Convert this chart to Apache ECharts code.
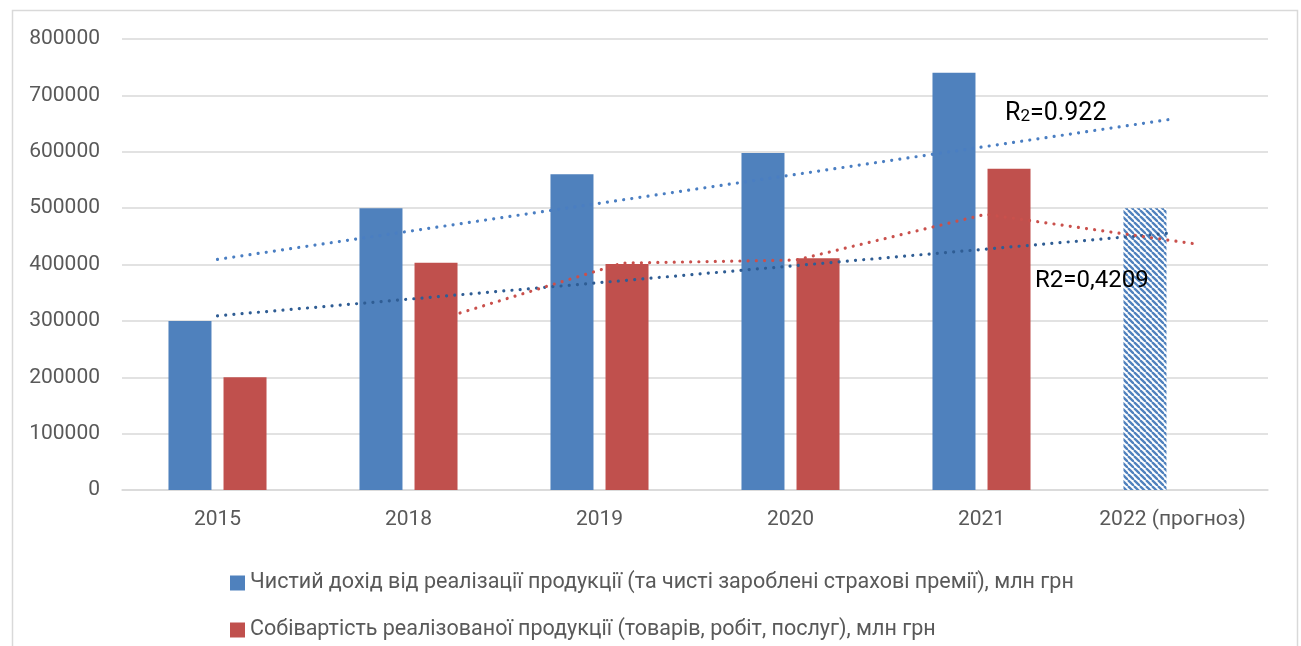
<!DOCTYPE html>
<html>
<head>
<meta charset="utf-8">
<script src="https://cdn.jsdelivr.net/npm/echarts@6/dist/echarts.min.js"></script>
<style>
html,body{margin:0;padding:0;background:#fff;}
#chart{width:1301px;height:646px;}
</style>
</head>
<body>
<div id="chart"></div>
<script>
// ---- data ----
const categories = ['2015', '2018', '2019', '2020', '2021', '2022 (прогноз)'];
const incomeValues = [300000, 500000, 560000, 598000, 740000, 500000];
const costValues = [200000, 403000, 401000, 411000, 570000, null];
const yTicks = [0, 100000, 200000, 300000, 400000, 500000, 600000, 700000, 800000];
// trend lines: [category position, value]
const incomeTrend = [[0, 409000], [5, 658000]];
const secondTrend = [[0, 309000], [5, 456000]];
const costMovingAvg = [[1.27, 314000], [2.12, 402500], [3.03, 408000], [4.02, 489000], [5.13, 436000]];
const forecastIndex = 5;
const seriesNames = [
  'Чистий дохід від реалізації продукції (та чисті зароблені страхові премії), млн грн',
  'Собівартість реалізованої продукції (товарів, робіт, послуг), млн грн'
];
const r2Labels = ['R₂=0.922', 'R2=0,4209'];

// ---- hatch pattern ----
const BLUE = '#4F81BD', RED = '#C0504D', DARKBLUE = '#2F5D94';
const P = 6;
const cv = document.createElement('canvas');
cv.width = P; cv.height = P;
const cx = cv.getContext('2d');
cx.fillStyle = '#ffffff'; cx.fillRect(0, 0, P, P);
cx.strokeStyle = BLUE; cx.lineWidth = 2.3;
for (let k = -1; k <= 1; k++) {
  cx.beginPath(); cx.moveTo(k * P, 0); cx.lineTo(k * P + P, P); cx.stroke();
}

const incomeData = incomeValues.map((v, i) => i === forecastIndex
  ? { value: v, itemStyle: { color: { image: cv, repeat: 'repeat' } } }
  : v);
const costData = costValues.map(v => v === null ? '-' : v);

const FONT = 'Roboto, "Noto Sans", sans-serif';
const dotted = (c) => ({ color: c, width: 3.2, type: [0.01, 8.2], cap: 'round' });

const chart = echarts.init(document.getElementById('chart'));
chart.setOption({
  animation: false,
  backgroundColor: '#ffffff',
  textStyle: { fontFamily: FONT },
  grid: { left: 122, right: 33, top: 39, bottom: 156, containLabel: false },
  legend: {
    data: seriesNames,
    orient: 'vertical',
    left: 225, top: 567,
    itemWidth: 15, itemHeight: 15, itemGap: 25,
    icon: 'rect',
    textStyle: { fontSize: 21.5, color: '#595959', fontFamily: FONT }
  },
  xAxis: [{
    type: 'category',
    data: categories,
    axisLine: { lineStyle: { color: '#d9d9d9', width: 1.5 } },
    axisTick: { show: false },
    axisLabel: { fontSize: 21, color: '#595959', margin: 19, fontFamily: FONT }
  }, {
    type: 'value', min: -0.5, max: 5.5, show: false
  }],
  yAxis: {
    type: 'value', min: 0, max: 800000, interval: 100000,
    axisLine: { show: false }, axisTick: { show: false },
    splitLine: { lineStyle: { color: '#d9d9d9', width: 1.5 } },
    axisLabel: { fontSize: 21, color: '#595959', margin: 22, fontFamily: FONT,
      formatter: v => yTicks.includes(v) ? String(v) : '' }
  },
  series: [{
    name: seriesNames[0], type: 'bar', data: incomeData,
    barWidth: 43, barGap: '28%',
    itemStyle: { color: BLUE }
  }, {
    name: seriesNames[1], type: 'bar', data: costData,
    barWidth: 43,
    itemStyle: { color: RED }
  }, {
    type: 'line', xAxisIndex: 1, data: incomeTrend, symbol: 'none', z: 5,
    lineStyle: dotted('#4A7EC2'), silent: true
  }, {
    type: 'line', xAxisIndex: 1, data: secondTrend, symbol: 'none', z: 5,
    lineStyle: dotted(DARKBLUE), silent: true
  }, {
    type: 'line', xAxisIndex: 1, data: costMovingAvg, symbol: 'none', z: 5,
    lineStyle: dotted('#C9504C'), silent: true
  }],
  graphic: [{
    type: 'rect', left: 10, top: 8, z: -1, silent: true,
    shape: { width: 1285, height: 660 },
    style: { fill: 'none', stroke: '#d9d9d9', lineWidth: 1.5 }
  }, {
    type: 'text', left: 1005, top: 101, z: 10,
    style: {
      text: '{a|R}{b|2}{a|=0.922}',
      rich: {
        a: { fontSize: 25, fill: '#000', fontFamily: FONT },
        b: { fontSize: 17, fill: '#000', fontFamily: FONT, padding: [7, 0, 0, 0] }
      }
    }
  }, {
    type: 'text', left: 1035, top: 269, z: 10,
    style: { text: r2Labels[1], fontSize: 24, fill: '#000', fontFamily: FONT }
  }]
});
</script>
</body>
</html>
